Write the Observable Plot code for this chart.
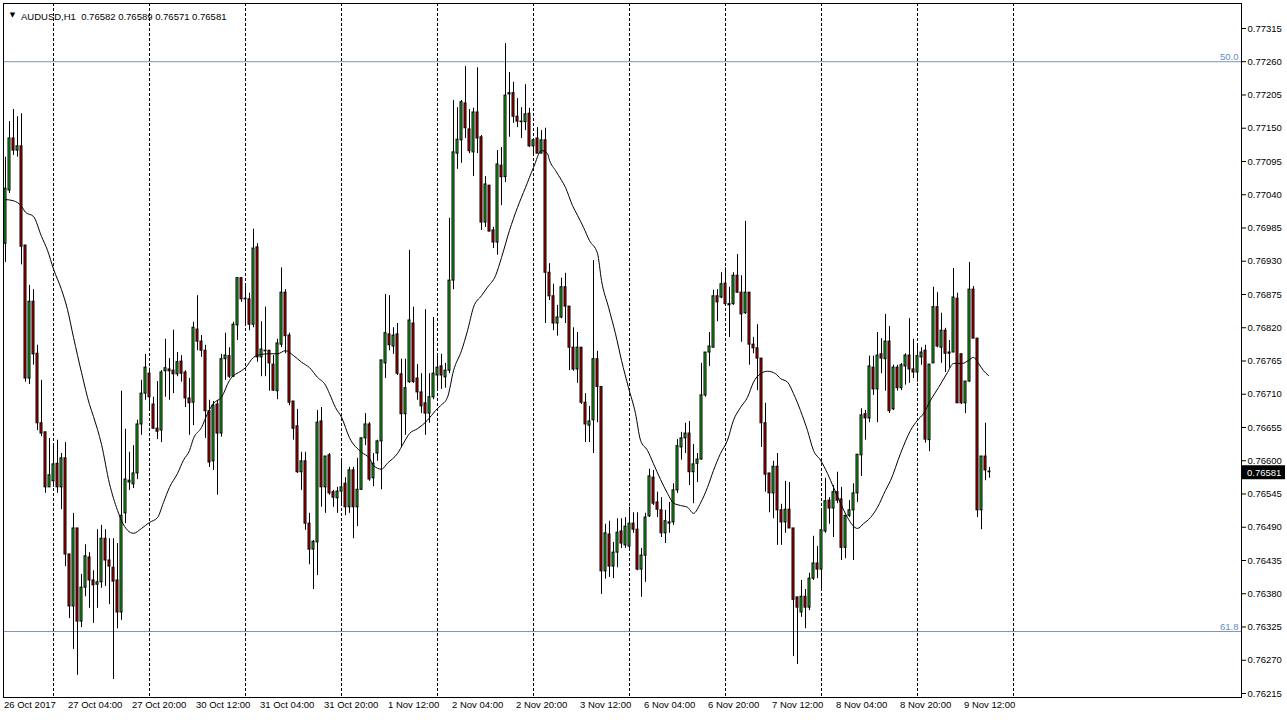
<!DOCTYPE html>
<html><head><meta charset="utf-8">
<script src="https://cdn.jsdelivr.net/npm/d3@7"></script>
<script src="https://cdn.jsdelivr.net/npm/@observablehq/plot@0.6"></script>
<style>
html,body{margin:0;padding:0;background:#fff;overflow:hidden}
#chart{width:1287px;height:720px;position:relative}
svg{display:block}
</style></head><body><div id="chart"></div>
<script>
const symbolName = "AUDUSD,H1";

const openP = [
0.76959,0.77047,0.77133,0.77113,0.77120,0.76956,0.76736,0.76863,0.76777,0.76662,
0.76647,0.76556,0.76566,0.76595,0.76556,0.76604,0.76445,0.76359,0.76488,0.76334,
0.76390,0.76440,0.76402,0.76395,0.76399,0.76471,0.76435,0.76423,0.76402,0.76349,
0.76513,0.76564,0.76561,0.76579,0.76660,0.76711,0.76744,0.76693,0.76653,0.76650,
0.76748,0.76751,0.76749,0.76743,0.76764,0.76746,0.76703,0.76696,0.76817,0.76797,
0.76782,0.76682,0.76599,0.76693,0.76645,0.76768,0.76773,0.76739,0.76824,0.76902,
0.76868,0.76867,0.76825,0.76953,0.76771,0.76782,0.76782,0.76759,0.76715,0.76792,
0.76878,0.76807,0.76698,0.76657,0.76581,0.76599,0.76496,0.76453,0.76465,0.76665,
0.76556,0.76609,0.76548,0.76538,0.76549,0.76562,0.76523,0.76584,0.76523,0.76552,
0.76637,0.76660,0.76571,0.76612,0.76632,0.76761,0.76809,0.76789,0.76809,0.76743,
0.76677,0.76730,0.76827,0.76736,0.76713,0.76695,0.76678,0.76705,0.76741,0.76756,
0.76738,0.76749,0.76898,0.77108,0.77130,0.77191,0.77148,0.77110,0.77176,0.77135,
0.76994,0.77055,0.76981,0.76961,0.77088,0.77069,0.77208,0.77208,0.77169,0.77161,
0.77160,0.77174,0.77120,0.77133,0.77108,0.77130,0.76911,0.76872,0.76827,0.76837,
0.76887,0.76855,0.76787,0.76751,0.76787,0.76696,0.76658,0.76667,0.76768,0.76722,
0.76417,0.76478,0.76425,0.76448,0.76483,0.76460,0.76458,0.76496,0.76486,0.76420,
0.76443,0.76508,0.76572,0.76531,0.76518,0.76480,0.76498,0.76498,0.76551,0.76622,
0.76637,0.76645,0.76581,0.76595,0.76602,0.76708,0.76779,0.76787,0.76872,0.76870,
0.76893,0.76859,0.76859,0.76906,0.76878,0.76844,0.76878,0.76792,0.76786,0.76769,
0.76662,0.76579,0.76546,0.76590,0.76518,0.76498,0.76519,0.76488,0.76374,0.76349,
0.76375,0.76357,0.76405,0.76430,0.76420,0.76483,0.76534,0.76521,0.76548,0.76536,
0.76456,0.76509,0.76518,0.76546,0.76609,0.76677,0.76670,0.76754,0.76718,0.76776,
0.76768,0.76797,0.76685,0.76754,0.76720,0.76756,0.76774,0.76751,0.76746,0.76771,
0.76782,0.76634,0.76761,0.76854,0.76787,0.76815,0.76779,0.76779,0.76868,0.76776,
0.76695,0.76731,0.76883,0.76802,0.76518,0.76607,0.76582];

const highP = [
0.77102,0.77161,0.77181,0.77169,0.77174,0.76956,0.76890,0.76883,0.76791,0.76733,
0.76647,0.76637,0.76624,0.76634,0.76612,0.76630,0.76445,0.76513,0.76488,0.76412,
0.76461,0.76448,0.76418,0.76486,0.76493,0.76486,0.76471,0.76471,0.76463,0.76715,
0.76652,0.76614,0.76625,0.76667,0.76733,0.76776,0.76753,0.76705,0.76731,0.76749,
0.76801,0.76769,0.76816,0.76779,0.76774,0.76749,0.76736,0.76829,0.76873,0.76807,
0.76791,0.76700,0.76698,0.76700,0.76776,0.76811,0.76787,0.76829,0.76902,0.76902,
0.76888,0.76877,0.76983,0.76959,0.76830,0.76854,0.76782,0.76774,0.76801,0.76919,
0.76883,0.76811,0.76698,0.76685,0.76614,0.76614,0.76513,0.76468,0.76683,0.76688,
0.76607,0.76612,0.76551,0.76556,0.76601,0.76572,0.76589,0.76589,0.76604,0.76638,
0.76678,0.76663,0.76612,0.76634,0.76766,0.76875,0.76873,0.76820,0.76827,0.76768,
0.76768,0.76948,0.76854,0.76759,0.76744,0.76850,0.76744,0.76837,0.76777,0.76776,
0.76761,0.77001,0.77196,0.77184,0.77196,0.77252,0.77181,0.77183,0.77250,0.77138,
0.77070,0.77055,0.76986,0.77113,0.77118,0.77290,0.77242,0.77226,0.77199,0.77184,
0.77222,0.77183,0.77130,0.77151,0.77146,0.77150,0.76926,0.76892,0.76857,0.76902,
0.76910,0.76855,0.76820,0.76812,0.76787,0.76711,0.76690,0.76931,0.76781,0.76722,
0.76495,0.76500,0.76465,0.76504,0.76504,0.76506,0.76523,0.76514,0.76514,0.76455,
0.76513,0.76586,0.76584,0.76548,0.76539,0.76518,0.76531,0.76562,0.76635,0.76647,
0.76662,0.76665,0.76627,0.76612,0.76761,0.76779,0.76812,0.76882,0.76883,0.76911,
0.76919,0.76887,0.76911,0.76941,0.76906,0.76996,0.76878,0.76804,0.76825,0.76769,
0.76695,0.76579,0.76599,0.76612,0.76528,0.76566,0.76564,0.76488,0.76374,0.76402,
0.76387,0.76414,0.76475,0.76458,0.76521,0.76571,0.76539,0.76559,0.76581,0.76556,
0.76509,0.76534,0.76562,0.76610,0.76686,0.76683,0.76773,0.76773,0.76812,0.76802,
0.76842,0.76822,0.76758,0.76758,0.76761,0.76777,0.76835,0.76801,0.76789,0.76787,
0.76791,0.76759,0.76887,0.76878,0.76844,0.76819,0.76799,0.76918,0.76877,0.76777,
0.76731,0.76928,0.76888,0.76802,0.76607,0.76662,0.76589];

const lowP = [
0.76928,0.77042,0.77105,0.77102,0.76924,0.76730,0.76726,0.76758,0.76650,0.76640,
0.76546,0.76556,0.76556,0.76546,0.76519,0.76425,0.76339,0.76288,0.76245,0.76324,
0.76375,0.76356,0.76331,0.76356,0.76389,0.76392,0.76362,0.76238,0.76322,0.76336,
0.76496,0.76551,0.76554,0.76569,0.76642,0.76700,0.76686,0.76653,0.76635,0.76630,
0.76705,0.76700,0.76711,0.76739,0.76730,0.76688,0.76642,0.76658,0.76782,0.76771,
0.76637,0.76589,0.76584,0.76543,0.76639,0.76733,0.76736,0.76738,0.76799,0.76862,
0.76827,0.76815,0.76820,0.76763,0.76739,0.76739,0.76715,0.76715,0.76701,0.76787,
0.76777,0.76691,0.76634,0.76579,0.76551,0.76485,0.76428,0.76387,0.76410,0.76523,
0.76513,0.76543,0.76523,0.76513,0.76524,0.76509,0.76513,0.76471,0.76491,0.76551,
0.76625,0.76566,0.76557,0.76599,0.76552,0.76736,0.76782,0.76776,0.76741,0.76622,
0.76642,0.76728,0.76728,0.76700,0.76678,0.76642,0.76662,0.76701,0.76716,0.76718,
0.76720,0.76744,0.76883,0.77082,0.77092,0.77133,0.77108,0.77070,0.77108,0.76981,
0.76986,0.76979,0.76951,0.76940,0.77022,0.77060,0.77135,0.77158,0.77151,0.77133,
0.77146,0.77118,0.77108,0.77108,0.77108,0.76827,0.76865,0.76815,0.76806,0.76835,
0.76827,0.76749,0.76748,0.76728,0.76693,0.76630,0.76630,0.76612,0.76663,0.76379,
0.76404,0.76407,0.76405,0.76423,0.76455,0.76455,0.76452,0.76480,0.76418,0.76374,
0.76399,0.76506,0.76526,0.76506,0.76473,0.76463,0.76480,0.76493,0.76546,0.76601,
0.76612,0.76559,0.76529,0.76564,0.76601,0.76705,0.76756,0.76787,0.76830,0.76868,
0.76857,0.76804,0.76857,0.76877,0.76796,0.76842,0.76758,0.76777,0.76716,0.76622,
0.76548,0.76514,0.76504,0.76460,0.76460,0.76480,0.76488,0.76276,0.76263,0.76341,
0.76322,0.76352,0.76402,0.76405,0.76385,0.76480,0.76495,0.76473,0.76529,0.76435,
0.76438,0.76506,0.76435,0.76531,0.76574,0.76634,0.76663,0.76708,0.76663,0.76744,
0.76715,0.76678,0.76683,0.76715,0.76716,0.76725,0.76728,0.76736,0.76730,0.76758,
0.76629,0.76615,0.76761,0.76787,0.76761,0.76746,0.76753,0.76779,0.76695,0.76693,
0.76678,0.76730,0.76802,0.76506,0.76486,0.76567,0.76571];

const closeP = [
0.77050,0.77133,0.77113,0.77120,0.76954,0.76736,0.76863,0.76776,0.76662,0.76645,
0.76556,0.76576,0.76594,0.76556,0.76604,0.76445,0.76359,0.76488,0.76334,0.76390,
0.76442,0.76402,0.76394,0.76399,0.76471,0.76435,0.76425,0.76400,0.76349,0.76509,
0.76569,0.76567,0.76579,0.76660,0.76711,0.76754,0.76705,0.76653,0.76648,0.76746,
0.76753,0.76748,0.76743,0.76763,0.76744,0.76703,0.76695,0.76820,0.76797,0.76782,
0.76682,0.76597,0.76691,0.76645,0.76768,0.76774,0.76739,0.76825,0.76902,0.76867,
0.76867,0.76825,0.76951,0.76771,0.76784,0.76781,0.76761,0.76716,0.76794,0.76878,
0.76806,0.76696,0.76653,0.76581,0.76599,0.76496,0.76453,0.76466,0.76663,0.76556,
0.76607,0.76546,0.76539,0.76549,0.76556,0.76523,0.76584,0.76523,0.76552,0.76637,
0.76660,0.76569,0.76595,0.76632,0.76766,0.76811,0.76791,0.76807,0.76744,0.76677,
0.76720,0.76832,0.76730,0.76713,0.76690,0.76678,0.76705,0.76744,0.76754,0.76741,
0.76749,0.76898,0.77110,0.77131,0.77193,0.77150,0.77112,0.77176,0.77133,0.76994,
0.77057,0.76979,0.76961,0.77090,0.77069,0.77204,0.77206,0.77169,0.77161,0.77160,
0.77173,0.77120,0.77130,0.77108,0.77130,0.76911,0.76872,0.76827,0.76837,0.76887,
0.76855,0.76787,0.76751,0.76787,0.76696,0.76660,0.76665,0.76768,0.76722,0.76417,
0.76480,0.76425,0.76448,0.76481,0.76463,0.76491,0.76496,0.76486,0.76420,0.76443,
0.76506,0.76574,0.76529,0.76519,0.76480,0.76500,0.76496,0.76551,0.76624,0.76637,
0.76645,0.76581,0.76594,0.76602,0.76708,0.76779,0.76789,0.76872,0.76862,0.76892,
0.76859,0.76857,0.76906,0.76878,0.76842,0.76878,0.76792,0.76786,0.76769,0.76662,
0.76577,0.76546,0.76590,0.76518,0.76498,0.76519,0.76488,0.76370,0.76357,0.76375,
0.76357,0.76405,0.76430,0.76420,0.76485,0.76533,0.76521,0.76548,0.76534,0.76456,
0.76509,0.76518,0.76546,0.76610,0.76675,0.76670,0.76756,0.76718,0.76774,0.76769,
0.76797,0.76682,0.76754,0.76720,0.76758,0.76774,0.76751,0.76746,0.76773,0.76779,
0.76635,0.76759,0.76854,0.76789,0.76815,0.76777,0.76777,0.76870,0.76695,0.76695,
0.76731,0.76883,0.76802,0.76518,0.76607,0.76584,0.76581];

// moving average: bar position and value
const maBar = [0,2,4,5,7,9,10.5,12,14,15.5,17,19,21,22,24,26,28,29,30.5,32,34,36,38,39.5,41,43,44.5,46,47,49,50.5,52,54,56,59,60,62,64,66,68,70,72,74,76,78,80,81,82.5,84,86,89,91,92,94,95.5,98,99.5,101,103,105.5,107.5,108.75,110.5,112,114,115.5,117,119,120.5,122.5,124,126,128,130,132,134,135.5,136,137.5,139,140,141.75,143,144.5,146,148,149,150.75,152.5,154,155.75,157.5,158.75,160.5,162,163.75,165.5,167,168.75,170.5,172,173.75,175.5,177,178.75,180.5,182,183.75,185.5,187,188.75,190.5,192.5,193.75,195.5,197,198.75,200.5,202,203.75,205.5,207,208.75,210.5,213,214.5,216.25,218,220,221.25,223.75,226.25,228,229.5,231.25,233.25,235.5,237,239.25,240.75,242,243.25,244.5,245.75];
const maValue = [0.77032,0.77030,0.77021,0.77011,0.77004,0.76971,0.76948,0.76917,0.76883,0.76850,0.76804,0.76746,0.76693,0.76673,0.76627,0.76562,0.76518,0.76501,0.76485,0.76480,0.76488,0.76498,0.76506,0.76531,0.76556,0.76579,0.76601,0.76617,0.76637,0.76655,0.76678,0.76695,0.76705,0.76733,0.76749,0.76754,0.76771,0.76776,0.76777,0.76777,0.76782,0.76774,0.76763,0.76754,0.76738,0.76725,0.76711,0.76688,0.76672,0.76638,0.76614,0.76604,0.76592,0.76586,0.76596,0.76612,0.76629,0.76645,0.76653,0.76667,0.76683,0.76691,0.76705,0.76749,0.76782,0.76815,0.76854,0.76873,0.76887,0.76906,0.76936,0.76981,0.77019,0.77052,0.77085,0.77113,0.77108,0.77097,0.77080,0.77064,0.77052,0.77022,0.77006,0.76986,0.76964,0.76943,0.76898,0.76854,0.76810,0.76766,0.76721,0.76678,0.76634,0.76617,0.76595,0.76569,0.76546,0.76530,0.76526,0.76523,0.76513,0.76530,0.76556,0.76584,0.76612,0.76634,0.76667,0.76688,0.76705,0.76730,0.76744,0.76748,0.76744,0.76736,0.76730,0.76711,0.76683,0.76650,0.76617,0.76601,0.76579,0.76556,0.76530,0.76506,0.76488,0.76496,0.76506,0.76523,0.76551,0.76567,0.76612,0.76650,0.76667,0.76678,0.76700,0.76721,0.76746,0.76761,0.76761,0.76766,0.76771,0.76761,0.76749,0.76741];

const timeLabels = ["26 Oct 2017","27 Oct 04:00","27 Oct 20:00","30 Oct 12:00","31 Oct 04:00","31 Oct 20:00","1 Nov 12:00","2 Nov 04:00","2 Nov 20:00","3 Nov 12:00","6 Nov 04:00","6 Nov 20:00","7 Nov 12:00","8 Nov 04:00","8 Nov 20:00","9 Nov 12:00"];
const labelBars = [0,16,32,48,64,80,96,112,128,144,160,176,192,208,224,240];
const gridBars = [12,36,60,84,108,132,156,180,204,228,252];
const priceTicks = [0.76215,0.76270,0.76325,0.76380,0.76435,0.76490,0.76545,0.76600,0.76655,0.76710,0.76765,0.76820,0.76875,0.76930,0.76985,0.77040,0.77095,0.77150,0.77205,0.77260,0.77315];
const fiboLevels = [0.77260, 0.763175];
const fiboNames = ["50.0", "61.8"];

const fmt5 = d3.format(".5f");
const n = openP.length;
const bars = openP.map((o, i) => ({i, o, h: highP[i], l: lowP[i], c: closeP[i], up: closeP[i] >= o}));
const maData = maBar.map((b, k) => ({b, v: maValue[k]}));
const lastBar = bars[n - 1];
const header = `${symbolName}  ${fmt5(lastBar.o)} ${fmt5(lastBar.h)} ${fmt5(lastBar.l)} ${fmt5(lastBar.c)}`;

const W = 1287, H = 720, mL = 3, mR = 46, mT = 3, mB = 23;
const FONT = "'Liberation Sans', Arial, sans-serif";

const chart = Plot.plot({
  width: W, height: H,
  marginLeft: mL, marginRight: mR, marginTop: mT, marginBottom: mB,
  style: {fontFamily: FONT, fontSize: "9.5px", color: "#000", background: "#fff"},
  x: {type: "linear", domain: [-0.5, 309], axis: null},
  y: {type: "linear", domain: [0.762084, 0.773563], axis: null},
  marks: [
    Plot.ruleX(gridBars, {x: d => d, stroke: "#000", strokeDasharray: "3,2", strokeWidth: 1}),
    Plot.ruleY(fiboLevels, {y: d => d, stroke: "#7f95ab", strokeWidth: 1}),
    Plot.text(fiboLevels, {y: d => d, text: (d, k) => fiboNames[k], frameAnchor: "right", textAnchor: "end", dx: -3, dy: -5, fill: "#5f8ccc", fontSize: 9.5}),
    Plot.ruleX(bars, {x: "i", y1: "l", y2: "h", stroke: "#000", strokeWidth: 1}),
    Plot.rect(bars, {x1: d => d.i - 0.25, x2: d => d.i + 0.25, y1: d => Math.min(d.o, d.c), y2: d => Math.max(d.o, d.c), fill: d => d.up ? "#1ec21e" : "#d20000", stroke: "#000", strokeWidth: 1}),
    Plot.line(maData, {x: "b", y: "v", stroke: "#000", strokeWidth: 1, curve: "monotone-x"}),
    Plot.frame({stroke: "#000", strokeWidth: 1}),
    Plot.axisY(priceTicks, {anchor: "right", tickSize: 4, tickPadding: 2, tickFormat: fmt5, fontSize: 9.5, fill: "#000"}),
    Plot.axisX(labelBars, {anchor: "bottom", tickSize: 0, tickPadding: 4, textAnchor: "start", dx: -1.5, tickFormat: d => timeLabels[labelBars.indexOf(d)], fontSize: 9.5, fill: "#000"}),
    Plot.text(["\u25BC"], {frameAnchor: "top-left", dx: 9, dy: 9, text: d => d, fontFamily: "DejaVu Sans", fontSize: 7, textAnchor: "middle", fill: "#000"}),
    Plot.text([header], {frameAnchor: "top-left", dx: 17.5, dy: 9.5, text: d => d, textAnchor: "start", fontSize: 9.5, fill: "#000"})
  ]
});

// current price marker on the price axis, placed with the plot's own y scale
const ys = chart.scale("y");
const yy = ys.apply(lastBar.c);
const svg = d3.select(chart);
const g = svg.append("g").attr("text-anchor", "start");
g.append("rect").attr("x", W - mR).attr("y", yy - 6.5).attr("width", 44).attr("height", 14).attr("fill", "#000");
g.append("text").attr("x", W - mR + 6).attr("y", yy + 0.5).attr("dy", "0.35em").attr("fill", "#fff")
  .attr("text-anchor", "start").attr("font-family", FONT).attr("font-size", 9.5).text(fmt5(lastBar.c));

document.getElementById("chart").appendChild(chart);
</script>
</body></html>
